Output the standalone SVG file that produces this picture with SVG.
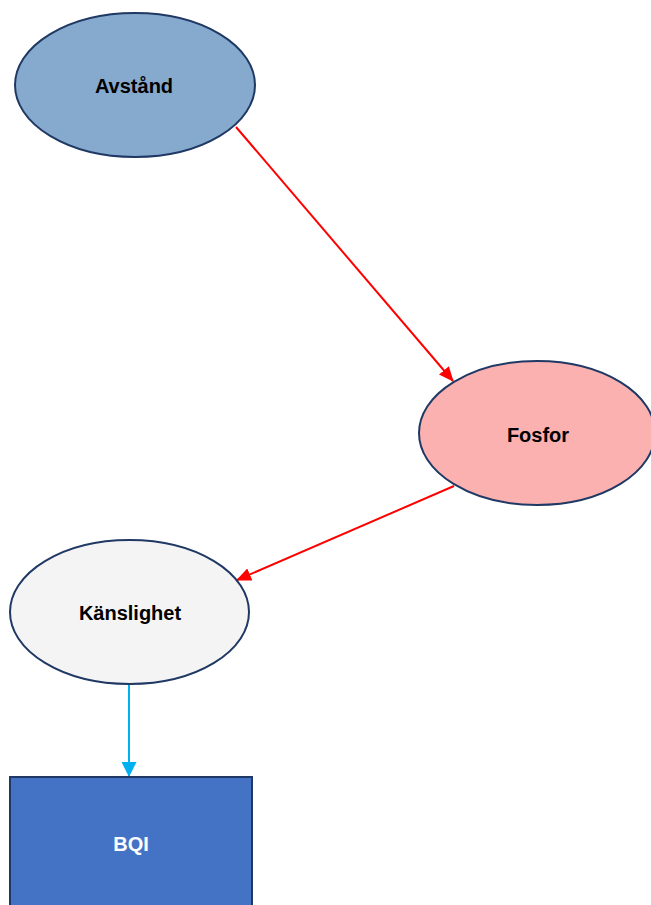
<svg xmlns="http://www.w3.org/2000/svg" width="651" height="905" viewBox="0 0 651 905">
  <style>
    .node { stroke: #1F3864; stroke-width: 2; }
    .label { font-family: "Liberation Sans", Arial, sans-serif; font-size: 20px; font-weight: bold; text-anchor: middle; fill: #000000; }
    .edge { fill: none; stroke-width: 2; }
  </style>
  <defs>
    <marker id="arrowRed" markerWidth="15" markerHeight="13" refX="14" refY="6.5" orient="auto" markerUnits="userSpaceOnUse" viewBox="0 0 15 13">
      <path d="M0,0 L15,6.5 L0,13 Z" fill="#FF0000"/>
    </marker>
    <marker id="arrowBlue" markerWidth="15" markerHeight="15" refX="14" refY="7.5" orient="auto" markerUnits="userSpaceOnUse" viewBox="0 0 15 15">
      <path d="M0,0 L15,7.5 L0,15 Z" fill="#00B0F0"/>
    </marker>
  </defs>
  <rect width="651" height="905" fill="#FFFFFF"/>

  <g id="connectors">
    <line class="edge" x1="236" y1="127" x2="453" y2="381" stroke="#FF0000" marker-end="url(#arrowRed)"/>
    <line class="edge" x1="454" y1="486" x2="237" y2="580" stroke="#FF0000" marker-end="url(#arrowRed)"/>
    <line class="edge" x1="129" y1="684" x2="129" y2="776" stroke="#00B0F0" marker-end="url(#arrowBlue)"/>
  </g>

  <g id="avstand">
    <ellipse class="node" cx="135" cy="85" rx="120" ry="72" fill="#86AACE"/>
    <text class="label" x="134" y="93">Avstånd</text>
  </g>

  <g id="fosfor">
    <ellipse class="node" cx="537" cy="433" rx="118" ry="72" fill="#FAB1B0"/>
    <text class="label" x="538" y="442">Fosfor</text>
  </g>

  <g id="kanslighet">
    <ellipse class="node" cx="129.5" cy="612" rx="119.5" ry="72" fill="#F4F4F4"/>
    <text class="label" x="130" y="620">Känslighet</text>
  </g>

  <g id="bqi">
    <rect class="node" x="10" y="777" width="242" height="140" fill="#4472C4"/>
    <text class="label" x="131" y="851" style="fill:#FFFFFF">BQI</text>
  </g>
</svg>
